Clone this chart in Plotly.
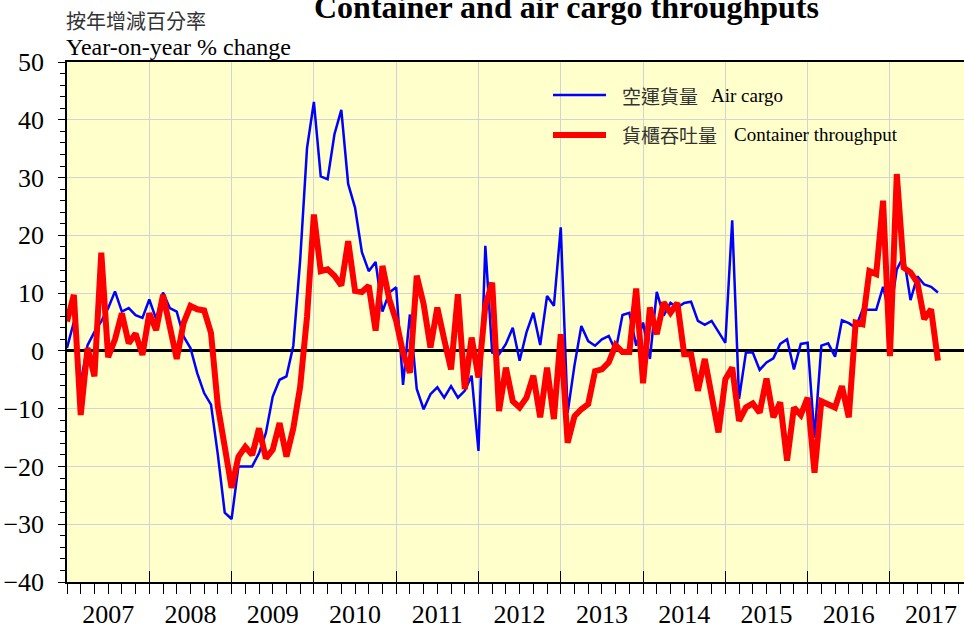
import plotly.graph_objects as go

# Monthly year-on-year % change, Jan 2007 - Aug 2017
air_cargo = [
    0.5, 5.0, -5.5, 1.0, 3.3, 5.1, 7.4, 10.3, 6.8, 7.4, 6.2, 5.7,            # 2007
    8.9, 5.5, 10.1, 7.4, 6.8, 2.5, 0.5, -3.9, -7.3, -9.3, -18.0, -28.0,     # 2008
    -29.1, -20.0, -20.0, -20.0, -17.7, -14.2, -7.9, -5.0, -4.4, 0.9, 15.7, 35.1,  # 2009
    43.1, 30.2, 29.7, 37.5, 41.7, 28.9, 24.8, 17.1, 13.8, 15.4, 6.8, 10.1,  # 2010
    11.0, -5.9, 6.3, -6.6, -10.1, -7.5, -6.3, -8.1, -6.1, -8.1, -6.9, -4.3,  # 2011
    -17.3, 18.2, -0.3, -0.6, 1.2, 4.0, -1.7, 3.2, 6.6, 1.0, 9.5, 7.8,       # 2012
    21.4, -10.7, -2.5, 4.3, 1.7, 0.9, 2.0, 2.6, 0.0, 6.2, 6.6, 0.9,         # 2013
    4.9, -1.4, 10.2, 6.1, 8.3, 7.5, 8.3, 8.5, 5.2, 4.5, 5.2, 3.2,           # 2014
    1.4, 22.6, -8.3, -0.3, -0.3, -3.3, -2.0, -1.3, 1.2, 2.0, -3.2, 1.2,     # 2015
    1.4, -15.0, 0.9, 1.3, -1.0, 5.3, 4.8, 4.0, 7.1, 7.1, 7.1, 11.1,         # 2016
    6.0, 14.1, 16.4, 8.8, 12.9, 11.5, 11.1, 10.1,                           # 2017
]
container = [
    5.1, 9.7, -11.1, 0.5, -4.4, 17.0, -1.1, 2.0, 6.5, 1.3, 3.0, -0.7,       # 2007
    6.5, 3.6, 9.7, 4.2, -1.4, 4.8, 7.8, 7.2, 7.0, 3.1, -9.6, -16.6,         # 2008
    -23.7, -18.3, -16.6, -18.0, -13.4, -18.6, -17.1, -12.5, -18.3, -13.4, -6.2, 5.9,  # 2009
    23.6, 13.8, 14.1, 13.0, 11.3, 19.0, 10.4, 10.2, 11.3, 3.5, 14.7, 8.9,   # 2010
    5.2, -0.3, -3.8, 13.0, 8.1, 0.6, 7.5, 2.0, -3.2, 9.8, -6.6, 2.3,        # 2011
    -4.6, 7.8, 11.8, -10.4, -2.9, -8.7, -9.8, -8.1, -4.3, -11.5, -2.9, -11.8,  # 2012
    2.9, -15.9, -11.3, -10.1, -9.2, -3.5, -3.2, -2.0, 1.0, -0.2, -0.2, 10.8,  # 2013
    -5.6, 7.5, 2.9, 8.4, 6.6, 8.3, -0.6, -0.6, -6.9, -1.4, -7.2, -14.1,     # 2014
    -4.9, -2.9, -12.1, -9.8, -9.1, -10.7, -4.8, -11.5, -8.9, -19.0, -9.8, -11.1,  # 2015
    -8.1, -21.1, -8.7, -9.2, -9.8, -6.1, -11.5, 4.9, 4.6, 13.8, 13.3, 26.0,  # 2016
    -0.9, 30.6, 14.4, 13.6, 11.8, 5.5, 7.2, -1.7,                           # 2017
]
years = [str(y) for y in range(2007, 2018)]

months = list(range(len(air_cargo)))          # month index, 0 = Jan 2007
year_starts = [12 * k for k in range(len(years))]
year_mids = [12 * k + 6 for k in range(len(years))]

SERIF = "Liberation Serif"
CJK = "Noto Sans CJK TC"

fig = go.Figure()
fig.add_trace(go.Scatter(x=months, y=air_cargo, mode="lines", name="空運貨量 Air cargo",
                         line=dict(color="#0000FF", width=2.5), showlegend=False))
fig.add_trace(go.Scatter(x=months, y=container, mode="lines", name="貨櫃吞吐量 Container throughput",
                         line=dict(color="#FF0000", width=6), showlegend=False))
# empty traces so the helper axes (year labels, inner ticks) are drawn
fig.add_trace(go.Scatter(x=[], y=[], xaxis="x2", showlegend=False, hoverinfo="skip"))
fig.add_trace(go.Scatter(x=[], y=[], xaxis="x3", showlegend=False, hoverinfo="skip"))

x_range = [0, 130.8]

fig.update_layout(
    width=964, height=628,
    margin=dict(l=67, r=0, t=62, b=46),
    paper_bgcolor="white",
    plot_bgcolor="#FFFFCC",
    font=dict(family=SERIF, size=26, color="black"),
    xaxis=dict(
        range=x_range, tickvals=year_starts, showticklabels=False, automargin=False,
        ticks="outside", ticklen=10, tickcolor="black", tickwidth=1,
        minor=dict(dtick=2, tick0=0, ticks="outside", ticklen=10, tickcolor="black", showgrid=False),
        showgrid=True, gridcolor="#D3D3D3", gridwidth=1,
        showline=True, linecolor="black", linewidth=1.5, mirror=True,
        zeroline=False,
    ),
    xaxis2=dict(
        range=x_range, overlaying="x", anchor="y", side="bottom", automargin=False,
        tickvals=year_mids, ticktext=years, ticks="", showgrid=False,
        showline=False, zeroline=False, ticklabelstandoff=14,
        tickfont=dict(family=SERIF, size=26, color="black"),
    ),
    xaxis3=dict(
        range=x_range, overlaying="x", anchor="y", side="bottom", automargin=False,
        tickvals=year_starts, showticklabels=False, ticks="inside", ticklen=11,
        tickcolor="black", tickwidth=1, showgrid=False, showline=False, zeroline=False,
    ),
    yaxis=dict(
        range=[-40, 50], tickvals=list(range(-40, 51, 10)), automargin=False,
        ticks="outside", ticklen=7, tickcolor="black", tickwidth=1,
        minor=dict(dtick=2, tick0=0, ticks="outside", ticklen=5, tickcolor="black", showgrid=False),
        showgrid=True, gridcolor="#D3D3D3", gridwidth=1,
        showline=True, linecolor="black", linewidth=1.5,
        zeroline=True, zerolinecolor="black", zerolinewidth=2.5,
        ticklabelstandoff=9,
        tickfont=dict(family=SERIF, size=26, color="black"),
    ),
)

def px_x(p):
    return (p - 67) / 897.0

def px_y(p):
    return 1 + (62 - p) / 520.0

annotations = [
    dict(text="<b>Container and air cargo throughputs</b>", x=px_x(566), y=px_y(27),
         xanchor="center", yanchor="bottom", font=dict(family=SERIF, size=32, color="black")),
    dict(text="按年增減百分率", x=px_x(64), y=px_y(20), xanchor="left", yanchor="middle",
         font=dict(family=CJK, size=20, color="#333333")),
    dict(text="Year-on-year % change", x=px_x(64), y=px_y(47), xanchor="left", yanchor="middle",
         font=dict(family=SERIF, size=24, color="black")),
    dict(text="空運貨量", x=px_x(620), y=px_y(95), xanchor="left", yanchor="middle",
         font=dict(family=CJK, size=19, color="#333333")),
    dict(text="Air cargo", x=px_x(709), y=px_y(95), xanchor="left", yanchor="middle",
         font=dict(family=SERIF, size=19, color="black")),
    dict(text="貨櫃吞吐量", x=px_x(620), y=px_y(135), xanchor="left", yanchor="middle",
         font=dict(family=CJK, size=19, color="#333333")),
    dict(text="Container throughput", x=px_x(732), y=px_y(135), xanchor="left", yanchor="middle",
         font=dict(family=SERIF, size=19, color="black")),
]
for a in annotations:
    a.update(xref="paper", yref="paper", showarrow=False)
fig.update_layout(annotations=annotations)

# legend samples
fig.add_shape(type="line", xref="paper", yref="paper", x0=px_x(553), x1=px_x(606),
              y0=px_y(95), y1=px_y(95), line=dict(color="#0000FF", width=2.5))
fig.add_shape(type="line", xref="paper", yref="paper", x0=px_x(553), x1=px_x(606),
              y0=px_y(135), y1=px_y(135), line=dict(color="#FF0000", width=6))

fig.write_html("out.html")
